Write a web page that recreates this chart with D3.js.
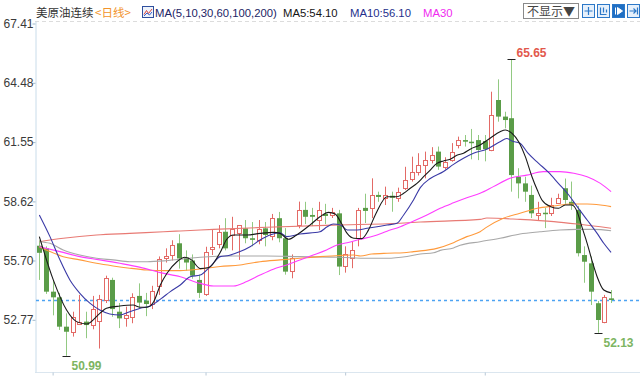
<!DOCTYPE html>
<html>
<head>
<meta charset="utf-8">
<script src="https://cdn.jsdelivr.net/npm/d3@7"></script>
<style>
  body { margin: 0; background: #fff; }
  svg { display: block; font-family: "Liberation Sans", Arial, sans-serif; }
</style>
</head>
<body>
<svg id="chart" width="640" height="380"></svg>
<script>
// ── Daily candles (open / high / low / close) ───────────────────────────────
const opens  = [56.43,56.30,54.16,53.88,52.43,52.18,52.60,52.68,52.50,52.70,53.75,54.74,53.17,52.84,52.92,53.95,53.72,53.55,54.40,55.81,
                55.97,56.55,55.85,55.70,54.74,54.08,56.30,56.55,57.12,56.95,57.04,57.29,56.80,56.72,57.29,56.88,57.79,56.80,55.15,57.45,
                58.20,57.95,57.70,58.00,57.95,58.03,55.40,55.81,56.80,58.30,58.28,58.94,58.78,58.90,58.78,59.27,59.76,60.09,60.42,60.67,
                61.08,60.34,60.67,61.41,61.65,61.57,61.65,61.60,61.16,63.63,62.81,62.73,59.84,59.51,58.94,57.95,58.06,58.03,58.52,59.27,
                58.60,58.20,55.97,55.56,53.59,52.68,53.83];
const highs  = [56.70,56.40,54.74,54.10,53.09,53.17,54.00,53.17,53.95,54.00,54.95,54.85,53.60,53.42,54.08,54.57,54.10,54.45,55.90,56.30,
                56.70,57.00,56.20,56.00,55.00,56.38,57.21,57.45,57.79,57.86,57.45,57.70,57.60,57.70,57.60,58.00,58.10,57.30,56.00,58.61,
                58.60,58.30,58.60,58.50,58.30,58.20,56.40,56.63,58.30,59.00,59.76,59.10,59.35,59.10,59.30,60.33,60.83,61.00,61.08,61.30,
                61.33,60.80,61.50,61.82,61.90,62.20,61.90,61.90,64.04,64.65,63.05,65.65,60.26,59.84,59.40,58.60,58.30,58.80,59.00,59.75,
                59.60,58.40,56.40,55.90,53.70,54.00,54.24];
const lows   = [54.74,54.05,52.99,52.27,50.99,51.94,52.51,51.86,52.30,51.35,53.60,52.92,52.36,52.43,52.60,53.34,52.95,53.30,54.00,55.60,
                55.70,55.30,55.20,54.80,53.85,53.95,55.97,56.30,56.20,56.20,55.73,56.55,56.40,56.50,56.40,56.70,56.60,55.00,54.82,57.29,
                57.50,57.40,57.20,57.50,57.80,54.98,55.10,55.32,56.40,57.55,57.79,58.60,58.44,58.11,58.60,59.18,59.60,59.90,59.76,60.50,
                60.18,60.20,60.58,61.24,61.33,60.70,60.66,60.60,61.10,62.56,62.23,59.10,58.77,58.60,57.80,57.70,57.30,57.90,58.50,58.50,
                58.20,55.90,54.60,53.50,52.13,52.60,53.60];
const closes = [56.08,54.16,53.88,52.43,52.18,52.92,52.68,52.51,53.30,53.80,54.84,53.30,52.84,53.00,53.91,53.62,53.55,54.19,55.75,55.92,
                56.47,55.80,55.60,54.95,54.10,56.14,56.38,57.12,56.30,57.25,57.45,56.80,56.72,57.24,56.96,57.79,56.80,55.15,55.81,58.20,
                57.86,57.86,58.20,57.90,58.10,55.40,56.00,56.22,58.20,58.15,58.94,58.84,58.94,58.80,59.10,59.68,60.09,60.42,60.67,60.91,
                60.34,60.58,61.08,61.65,61.57,61.50,61.16,61.20,62.89,62.81,62.64,59.92,59.51,59.10,58.03,58.06,58.00,58.44,58.77,58.69,
                58.45,56.06,55.64,54.16,52.76,53.91,53.75];

// ── Moving averages, [candle index, value] ──────────────────────────────────
const ma5 = [[0,56.88],[2.1,54.74],[4.1,53.25],[5.6,52.68],[7.1,52.56],[9.1,53.09],[10.1,53.34],[12.1,53.45],[14.1,53.50],[15.2,53.39],
  [16.2,53.39],[17.2,53.66],[18.2,54.49],[19.2,55.07],[20.7,55.64],[21.9,55.86],[22.9,55.73],[24.2,55.30],[25.5,55.35],[27.2,56.10],
  [28.2,56.75],[29.2,56.96],[31.2,56.96],[33.2,57.04],[35.2,57.09],[36.2,57.04],[37.5,56.75],[38.7,56.96],[40.7,57.45],[42.2,57.86],
  [43.5,58.08],[44.5,58.00],[45.5,57.50],[46.3,57.04],[47.3,56.80],[48.5,56.78],[49.5,57.20],[50.6,58.00],[52.3,58.85],[53.8,58.85],
  [54.8,59.02],[55.8,59.27],[56.8,59.51],[57.8,59.84],[58.8,60.17],[59.8,60.50],[60.8,60.62],[61.8,60.70],[62.8,60.90],[63.8,61.00],
  [64.8,61.20],[66.3,61.41],[67.8,61.74],[69.3,62.06],[70.1,62.15],[71.1,61.98],[72.1,61.57],[73.1,60.83],[74.1,59.84],[74.9,59.18],
  [75.6,58.69],[76.9,58.36],[78.1,58.28],[79.1,58.44],[80.1,58.44],[80.9,58.11],[81.6,57.37],[82.4,56.55],[83.1,55.73],[83.9,54.90],
  [84.9,54.24],[86,54.10]];
const ma10 = [[0,57.95],[1.6,56.88],[3.1,55.73],[4.6,54.74],[6.1,54.08],[7.6,53.59],[9.1,53.25],[10.6,53.06],[12.1,53.01],[13.6,53.17],
  [15.2,53.34],[16.7,53.45],[17.7,53.66],[18.7,53.91],[19.7,54.16],[21.2,54.49],[22.7,54.90],[24.2,54.98],[25.7,55.40],[27.2,55.89],
  [28.5,55.95],[30.2,56.14],[31.7,56.38],[33.2,56.71],[34.7,56.96],[36.2,57.07],[37.2,56.88],[39.2,57.01],[42.2,57.12],[43.3,57.37],
  [44.2,57.50],[45.3,57.45],[46.3,57.21],[47.8,57.21],[49.3,57.29],[50.8,57.37],[52.3,57.45],[53.8,57.54],[54.8,57.95],[56.3,58.70],
  [57.3,59.30],[58.8,59.75],[60.8,60.10],[62.3,60.45],[63.8,60.75],[65.3,61.00],[67.3,61.20],[69.3,61.57],[70.3,61.73],[71.1,61.60],
  [72.3,61.49],[73.5,61.00],[75.1,60.50],[76.6,60.05],[78.1,59.50],[79.6,58.95],[80.9,58.36],[82.4,57.70],[83.9,57.04],[84.9,56.55],
  [86,56.10]];
const ma30 = [[0,56.38],[3.1,56.14],[6.1,55.89],[9.1,55.73],[12.1,55.56],[15.2,55.36],[18.2,55.10],[21.2,54.90],[24.2,54.57],[26.2,54.44],
  [29.2,54.44],[31.2,54.66],[33.2,54.98],[35.2,55.27],[37.2,55.48],[39.2,55.73],[41.2,55.97],[43.2,56.22],[44.8,56.47],[46.3,56.58],
  [48.3,56.75],[50.3,56.91],[52.3,57.15],[54.3,57.37],[56.3,57.65],[58.3,57.95],[60.3,58.28],[62.3,58.55],[64.3,58.80],[66.3,59.02],
  [68.3,59.35],[70.8,59.76],[73.3,59.92],[75.8,60.09],[78.3,60.09],[80.4,60.01],[82.4,59.84],[84.4,59.51],[86,59.10]];
const ma60 = [[0,56.38],[1.6,56.14],[3.6,55.89],[6.1,55.73],[8.6,55.56],[11.1,55.43],[13.6,55.32],[16.2,55.23],[18.7,55.20],[21.2,55.20],
  [24.2,55.28],[27.2,55.40],[30.2,55.48],[33.2,55.64],[36.2,55.73],[39.2,55.81],[42.2,55.89],[45.2,55.95],[47.3,55.97],[48.3,55.92],
  [50,56.02],[52.3,56.06],[54.8,56.08],[56.3,56.14],[59.8,56.30],[62.3,56.58],[64.3,56.88],[66.3,57.12],[67.3,57.35],[69.8,57.79],
  [72.3,58.03],[74.9,58.28],[77.4,58.39],[79.9,58.49],[82.4,58.49],[84.4,58.44],[86,58.36]];
const ma100 = [[0,56.63],[1.6,56.55],[3.6,56.22],[6.1,55.97],[8.6,55.81],[11.1,55.73],[13.6,55.64],[16.2,55.64],[18.7,55.68],[21.2,55.76],
  [24.2,55.86],[29.2,55.92],[34.2,55.92],[39.2,55.89],[45.3,55.86],[49.3,55.81],[52.3,55.81],[55.3,55.90],[57.3,56.02],[59.3,56.08],
  [60.3,56.20],[62.3,56.32],[63.3,56.45],[66.3,56.63],[69.3,56.80],[72.3,57.01],[75.3,57.12],[78.3,57.21],[80.9,57.24],[83.4,57.24],
  [86,57.17]];
const ma200 = [[0,56.63],[3.6,56.80],[8.6,56.96],[13.6,57.04],[18.7,57.12],[21.2,57.16],[24.2,57.21],[26.2,57.24],[34.2,57.34],[44.2,57.45],
  [54.3,57.54],[57.3,57.60],[66.3,57.73],[67.3,57.80],[72.3,57.73],[77.4,57.62],[80.9,57.50],[86,57.29]];

const yTicks = [52.77, 55.70, 58.62, 61.55, 64.48, 67.41];
const monthStarts = [2, 25, 46, 67];           // bottom tick marks (candle index)
const lastPrice = 53.75;
const marks = [ { i: 71, v: 65.65, kind: 'high' }, { i: 4, v: 50.99, kind: 'low' }, { i: 84, v: 52.13, kind: 'low' } ];
const slots = 91;                               // visible candle slots

const maSeries = [
  { data: ma200, color: '#e87a74' },
  { data: ma100, color: '#a8a8a8' },
  { data: ma60,  color: '#ff9a3c' },
  { data: ma30,  color: '#ff3cff' },
  { data: ma10,  color: '#3a3aa6' },
  { data: ma5,   color: '#1a1a1a' }
];

// ── Layout ────────────────────────────────────────────────────────────────
const svg = d3.select('#chart');
const L = 35, R = 640, T = 21, B = 372;

const x = d3.scaleLinear().domain([-0.5, slots - 0.5]).range([L + 1, R + 1]);
const y0 = d3.scaleLinear().domain([52.77, 67.41]).range([319.8, 23.5]);
const y = d3.scaleLinear().domain([y0.invert(B), y0.invert(T)]).range([B, T]);

// top dashed border
svg.append('line').attr('x1', L).attr('x2', R).attr('y1', T + 0.5).attr('y2', T + 0.5)
  .attr('stroke', '#dcdcdc').attr('stroke-dasharray', '4,3');
// bottom border
svg.append('line').attr('x1', L).attr('x2', R).attr('y1', B + 0.5).attr('y2', B + 0.5)
  .attr('stroke', '#dbe6ef');

// y axis
const yAxis = svg.append('g').attr('transform', `translate(${L + 0.5},0)`)
  .call(d3.axisLeft(y).tickValues(yTicks).tickSize(3).tickSizeOuter(0).tickFormat(d3.format('.2f')));
yAxis.select('.domain').attr('stroke', '#c9dcea');
yAxis.selectAll('.tick line').attr('stroke', '#9fb8cc');
yAxis.selectAll('.tick text').attr('fill', '#3a3a3a').attr('font-size', 12)
  .attr('font-family', '"Liberation Sans", Arial, sans-serif').attr('x', -2);

// bottom ticks
const xAxis = svg.append('g').attr('transform', `translate(0,${B + 0.5})`)
  .call(d3.axisBottom(x).tickValues(monthStarts).tickSize(3).tickSizeOuter(0).tickFormat(''));
xAxis.select('.domain').remove();
xAxis.selectAll('.tick line').attr('stroke', '#b8c8d6');

// current price line
svg.append('line').attr('x1', L + 1).attr('x2', R)
  .attr('y1', Math.round(y(lastPrice)) + 0.5).attr('y2', Math.round(y(lastPrice)) + 0.5)
  .attr('stroke', '#4da3f2').attr('stroke-width', 1.6).attr('stroke-dasharray', '3,3');

// ── Candles ───────────────────────────────────────────────────────────────
const candles = opens.map((o, i) => ({ i, o, h: highs[i], l: lows[i], c: closes[i] }));
const cg = svg.append('g');
candles.forEach(d => {
  const cx = Math.round(x(d.i)) + 0.5;
  const up = d.c >= d.o;
  const wick = up ? '#e36a66' : '#92c982';
  cg.append('line').attr('x1', cx).attr('x2', cx).attr('y1', y(d.h)).attr('y2', y(d.l))
    .attr('stroke', wick).attr('stroke-width', 1);
  const top = y(Math.max(d.o, d.c)), bot = y(Math.min(d.o, d.c));
  if (up) {
    cg.append('rect').attr('x', cx - 2).attr('y', Math.round(top) + 0.5)
      .attr('width', 4).attr('height', Math.max(1, Math.round(bot - top)))
      .attr('fill', '#fff').attr('stroke', '#e36a66').attr('stroke-width', 1);
  } else {
    cg.append('rect').attr('x', cx - 2.5).attr('y', top)
      .attr('width', 5).attr('height', Math.max(1.5, bot - top))
      .attr('fill', '#5a9c48');
  }
});

// ── Moving average lines ──────────────────────────────────────────────────
const line = d3.line().x(p => x(p[0])).y(p => y(p[1])).curve(d3.curveMonotoneX);
svg.append('g').selectAll('path').data(maSeries).join('path')
  .attr('d', s => line(s.data)).attr('fill', 'none')
  .attr('stroke', s => s.color).attr('stroke-width', 1.1);

// ── High / low markers ────────────────────────────────────────────────────
marks.forEach(m => {
  const cx = Math.round(x(m.i)) + 0.5, cy = Math.round(y(m.v)) + 0.5;
  svg.append('line').attr('x1', cx - 4).attr('x2', cx + 4).attr('y1', cy).attr('y2', cy)
    .attr('stroke', '#222').attr('stroke-width', 1);
  svg.append('text').text(m.v.toFixed(2))
    .attr('x', cx + 5).attr('y', m.kind === 'high' ? cy - 3 : cy + 13)
    .attr('font-size', 12).attr('font-weight', 'bold')
    .attr('fill', m.kind === 'high' ? '#e2584c' : '#7db562');
});

// ── Header: title + legend ────────────────────────────────────────────────
const cjk = '"Noto Sans CJK SC", "Noto Sans", sans-serif';
svg.append('text').text('美原油连续').attr('x', 36).attr('y', 17)
  .attr('font-family', cjk).attr('font-size', 11.5).attr('fill', '#333');
svg.append('text').text('<日线>').attr('x', 95).attr('y', 17)
  .attr('font-family', cjk).attr('font-size', 11.5).attr('fill', '#f2932a');

// legend icon
const ic = svg.append('g').attr('transform', 'translate(142.5,6.5)');
ic.append('rect').attr('width', 11).attr('height', 11).attr('fill', '#eef3fb').attr('stroke', '#2f4f9e');
ic.append('polyline').attr('points', '1.5,8 4,4 6,7 9.5,2.5').attr('fill', 'none').attr('stroke', '#d9453a').attr('stroke-width', 1);
ic.append('polyline').attr('points', '1.5,9.5 4.5,6.5 7,8.5 9.5,5.5').attr('fill', 'none').attr('stroke', '#3a62c8').attr('stroke-width', 1);

const legend = [
  { t: 'MA(5,10,30,60,100,200)', x: 155, c: '#1c2466' },
  { t: 'MA5:54.10', x: 283, c: '#141414' },
  { t: 'MA10:56.10', x: 350, c: '#252f8c' },
  { t: 'MA30', x: 423, c: '#f02af0' }
];
svg.append('g').selectAll('text').data(legend).join('text')
  .text(d => d.t).attr('x', d => d.x).attr('y', 17)
  .attr('font-size', 11.3).attr('fill', d => d.c);

// top-right controls
svg.append('rect').attr('x', 523.5).attr('y', 3.5).attr('width', 55).attr('height', 15)
  .attr('fill', '#fff').attr('stroke', '#8a8a8a');
svg.append('text').text('不显示▼').attr('x', 527).attr('y', 15.5)
  .attr('font-family', cjk).attr('font-size', 12).attr('fill', '#444');

const btns = [
  { x: 582.5, dark: false, g: 'cross' },
  { x: 597.5, dark: false, g: 'bars' },
  { x: 612.5, dark: true,  g: 'play' },
  { x: 627.5, dark: false, g: 'end' }
];
btns.forEach(b => {
  const g = svg.append('g').attr('transform', `translate(${b.x},4.5)`);
  g.append('rect').attr('width', 12).attr('height', 13)
    .attr('fill', b.dark ? '#1f6fc4' : '#e6f0fb').attr('stroke', '#2c78c8');
  const fg = b.dark ? '#fff' : '#2c78c8';
  if (b.g === 'cross') {
    g.append('path').attr('d', 'M6,2.5V10.5M2,6.5H10').attr('stroke', fg).attr('stroke-width', 1.2);
  } else if (b.g === 'bars') {
    g.append('path').attr('d', 'M3,3V10H9M6,3V8M9,5V8').attr('stroke', fg).attr('fill', 'none').attr('stroke-width', 1.2);
  } else if (b.g === 'play') {
    g.append('path').attr('d', 'M3,3V10M5,3L10,6.5L5,10Z').attr('stroke', fg).attr('fill', fg).attr('stroke-width', 1);
  } else {
    g.append('path').attr('d', 'M2,6.5H8M6,4L8.5,6.5L6,9M10,3V10').attr('stroke', fg).attr('fill', 'none').attr('stroke-width', 1.2);
  }
});
</script>
</body>
</html>
